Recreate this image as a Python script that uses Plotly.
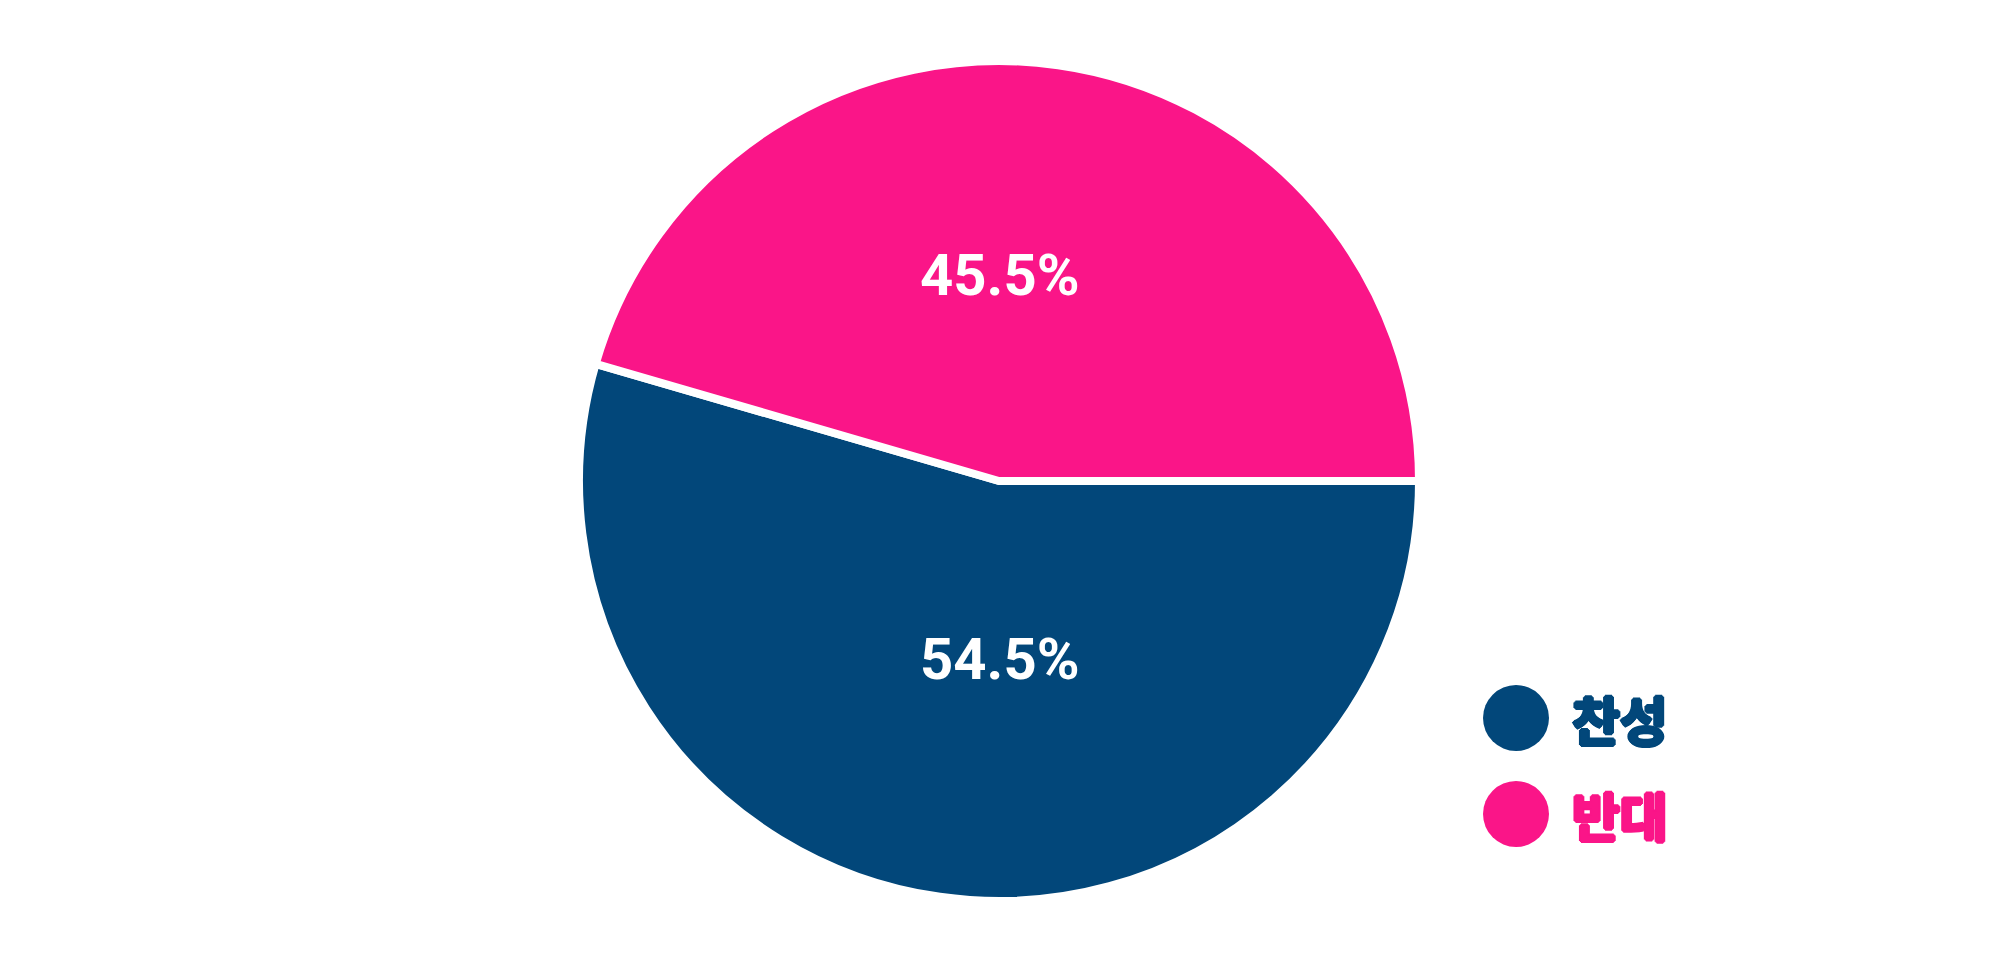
import plotly.graph_objects as go

labels = ["찬성", "반대"]
values = [54.5, 45.5]
colors = ["#02477A", "#FA1588"]

W, H = 2001, 964
OFF = 8  # page body margin offset
cx, cy, R = 999 - OFF, 481 - OFF, 420  # pie centre/radius in pixels (layout)

fig = go.Figure()
fig.add_trace(go.Pie(
    labels=labels,
    values=values,
    sort=False,
    direction="clockwise",
    rotation=90,
    marker=dict(colors=colors, line=dict(color="white", width=8)),
    textinfo="none",
    showlegend=False,
    domain=dict(x=[(cx - R) / W, (cx + R) / W], y=[(H - cy - R) / H, (H - cy + R) / H]),
    hoverinfo="skip",
))

total = sum(values)
shapes = []
annotations = []

# slice percentage labels (centred horizontally, as in reference)
label_y = [659 - OFF, 275 - OFF]
for v, yy in zip(values, label_y):
    annotations.append(dict(text=f"{100 * v / total:.1f}%", xref="paper", yref="paper",
                            x=(1000 - OFF) / W, y=(H - yy) / H, xanchor="center", yanchor="middle",
                            showarrow=False,
                            font=dict(family="Roboto", size=58, color="white", weight="bold")))

# custom legend: large circles + coloured labels
leg_x = 1516 - OFF
leg_y = [718 - OFF, 814 - OFF]
rad = 33
for lab, col, yy in zip(labels, colors, leg_y):
    shapes.append(dict(type="circle", xref="paper", yref="paper",
                       x0=(leg_x - rad) / W, x1=(leg_x + rad) / W,
                       y0=(H - yy - rad) / H, y1=(H - yy + rad) / H,
                       fillcolor=col, line=dict(width=0)))
    sh = ", ".join(f"{dx}px {dy}px 0px {col}" for dx, dy in
                   [(1, 0), (-1, 0), (0, 1), (0, -1), (2, 0), (-2, 0), (0, 2), (0, -2), (1, 1), (-1, -1), (1, -1), (-1, 1)])
    annotations.append(dict(text=lab, xref="paper", yref="paper",
                            x=(1570 - OFF) / W, y=(H - yy) / H, xanchor="left", yanchor="middle",
                            showarrow=False,
                            font=dict(family="Noto Sans CJK KR", size=52, color=col, weight="bold",
                                      shadow=sh)))

fig.update_layout(
    width=W, height=H,
    margin=dict(l=0, r=0, t=0, b=0),
    paper_bgcolor="white",
    plot_bgcolor="white",
    shapes=shapes,
    annotations=annotations,
)

fig.write_html("out.html")
